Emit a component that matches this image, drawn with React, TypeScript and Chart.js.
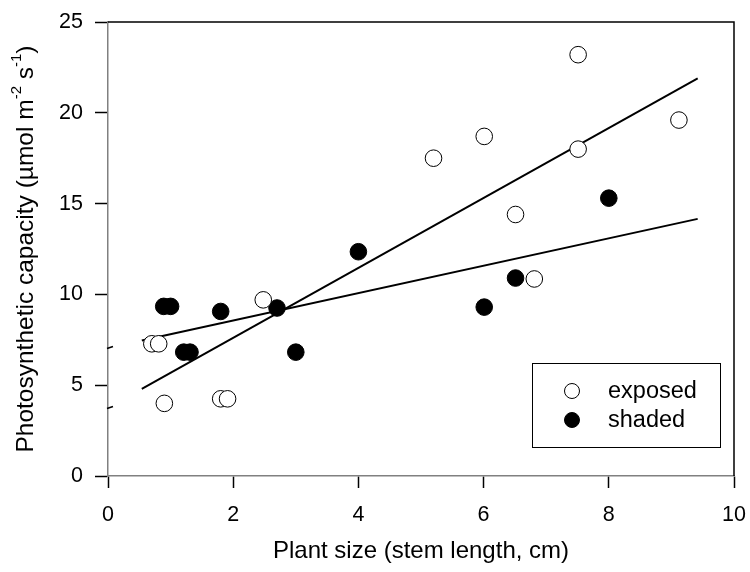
import { useEffect, useRef } from "react";
import { Chart, registerables } from "chart.js";

Chart.register(...registerables);

const exposedX = [0.7, 0.81, 0.9, 1.8, 1.91, 2.48, 5.2, 6.01, 6.51, 6.81, 7.51, 7.51, 9.12];
const exposedY = [7.28, 7.28, 4.0, 4.25, 4.25, 9.7, 17.5, 18.7, 14.4, 10.85, 23.2, 18.0, 19.6];
const shadedX = [0.89, 1.0, 1.21, 1.31, 1.8, 2.7, 3.0, 4.0, 6.01, 6.51, 8.0];
const shadedY = [9.34, 9.34, 6.82, 6.82, 9.06, 9.25, 6.82, 12.35, 9.3, 10.9, 15.3];
const fitX = [0.54, 9.42];
const exposedFitY = [4.8, 21.9];
const shadedFitY = [7.46, 14.16];
const xTicks = [0, 2, 4, 6, 8, 10];
const yTicks = [0, 5, 10, 15, 20, 25];
const axisBreaks = [3.8, 7.1];
const seriesLabels = ["exposed", "shaded"];
const xTitle = "Plant size (stem length, cm)";
const yTitleParts: [string, boolean][] = [
  ["Photosynthetic capacity (µmol m", false],
  ["-2", true],
  [" s", false],
  ["-1", true],
  [")", false],
];

const FONT = "'Liberation Sans', Arial, sans-serif";

const decorPlugin = {
  id: "decor",
  afterDraw(chart: any) {
    const { ctx, chartArea, scales } = chart;
    const { left, right, top, bottom } = chartArea;
    ctx.save();
    // top & right frame
    ctx.strokeStyle = "#000";
    ctx.lineWidth = 1.5;
    ctx.beginPath();
    ctx.moveTo(left, top);
    ctx.lineTo(right, top);
    ctx.lineTo(right, bottom);
    ctx.stroke();

    // axis break marks
    ctx.lineWidth = 1.5;
    axisBreaks.forEach((v) => {
      const py = scales.y.getPixelForValue(v);
      ctx.beginPath();
      ctx.moveTo(left - 1, py + 1.5);
      ctx.lineTo(left + 5, py - 0.5);
      ctx.stroke();
    });

    // legend
    const bx0 = right - 202;
    const bx1 = right - 14;
    const by0 = bottom - 113;
    const by1 = bottom - 29;
    ctx.lineWidth = 1;
    ctx.strokeStyle = "#000";
    ctx.strokeRect(bx0 + 0.5, by0 + 0.5, bx1 - bx0, by1 - by0);
    ctx.font = `23.5px ${FONT}`;
    ctx.textBaseline = "middle";
    ctx.textAlign = "left";
    seriesLabels.forEach((lab, i) => {
      const ds = chart.data.datasets[i];
      const cy = by0 + 28 + i * 29;
      const cx = bx0 + 40;
      ctx.beginPath();
      ctx.arc(cx, cy, 7.5, 0, Math.PI * 2);
      ctx.fillStyle = ds.pointBackgroundColor;
      ctx.fill();
      ctx.lineWidth = 1;
      ctx.strokeStyle = "#000";
      ctx.stroke();
      ctx.fillStyle = "#000";
      ctx.fillText(lab, bx0 + 76, cy + 1);
    });

    // x title
    ctx.font = `24px ${FONT}`;
    ctx.textAlign = "center";
    ctx.textBaseline = "middle";
    ctx.fillStyle = "#000";
    ctx.fillText(xTitle, (left + right) / 2, 551);

    // y title with superscripts
    const mainSize = 24.5;
    const supSize = 15;
    let total = 0;
    yTitleParts.forEach(([t, sup]) => {
      ctx.font = `${sup ? supSize : mainSize}px ${FONT}`;
      total += ctx.measureText(t).width;
    });
    ctx.translate(26, (top + bottom) / 2);
    ctx.rotate(-Math.PI / 2);
    ctx.textAlign = "left";
    ctx.textBaseline = "middle";
    let x = -total / 2;
    yTitleParts.forEach(([t, sup]) => {
      ctx.font = `${sup ? supSize : mainSize}px ${FONT}`;
      ctx.fillText(t, x, sup ? -9 : 0);
      x += ctx.measureText(t).width;
    });
    ctx.restore();
  },
};

export default function App() {
  const ref = useRef<HTMLCanvasElement | null>(null);
  useEffect(() => {
    if (!ref.current) return;
    const chart = new Chart(ref.current, {
      type: "scatter",
      data: {
        datasets: [
          {
            label: seriesLabels[0],
            data: exposedX.map((x, i) => ({ x, y: exposedY[i] })),
            pointRadius: 8.3,
            pointBackgroundColor: "#ffffff",
            pointBorderColor: "#000000",
            pointBorderWidth: 1,
            showLine: false,
            order: 0,
          },
          {
            label: seriesLabels[1],
            data: shadedX.map((x, i) => ({ x, y: shadedY[i] })),
            pointRadius: 8.3,
            pointBackgroundColor: "#000000",
            pointBorderColor: "#000000",
            pointBorderWidth: 1,
            showLine: false,
            order: 0,
          },
          {
            label: "exposed fit",
            data: fitX.map((x, i) => ({ x, y: exposedFitY[i] })),
            showLine: true,
            borderColor: "#000",
            borderWidth: 2,
            pointRadius: 0,
            order: 1,
          },
          {
            label: "shaded fit",
            data: fitX.map((x, i) => ({ x, y: shadedFitY[i] })),
            showLine: true,
            borderColor: "#000",
            borderWidth: 2,
            pointRadius: 0,
            order: 1,
          },
        ],
      },
      options: {
        animation: false,
        responsive: false,
        maintainAspectRatio: false,
        layout: { padding: { top: 22, right: 16, left: 0, bottom: 0 } },
        plugins: { legend: { display: false }, tooltip: { enabled: false } },
        scales: {
          x: {
            type: "linear",
            min: 0,
            max: 10,
            afterBuildTicks: (s: any) => {
              s.ticks = xTicks.map((v) => ({ value: v }));
            },
            afterFit: (s: any) => {
              s.height = 96;
              s.paddingLeft = 0;
              s.paddingRight = 0;
            },
            ticks: {
              color: "#000",
              font: { family: FONT, size: 21.5 },
              padding: 14,
              maxRotation: 0,
            },
            grid: {
              display: true,
              drawOnChartArea: false,
              tickLength: 12,
              tickColor: "#000",
              tickWidth: 1.5,
            },
            border: { display: true, color: "#808080", width: 1.5 },
          },
          y: {
            type: "linear",
            min: 0,
            max: 25,
            afterBuildTicks: (s: any) => {
              s.ticks = yTicks.map((v) => ({ value: v }));
            },
            afterFit: (s: any) => {
              s.width = 108;
              s.paddingTop = 0;
              s.paddingBottom = 0;
            },
            ticks: {
              color: "#000",
              font: { family: FONT, size: 21.5 },
              padding: 12,
            },
            grid: {
              display: true,
              drawOnChartArea: false,
              tickLength: 13,
              tickColor: "#000",
              tickWidth: 1.5,
            },
            border: { display: true, color: "#808080", width: 1.5 },
          },
        },
      },
      plugins: [decorPlugin],
    });
    return () => chart.destroy();
  }, []);
  return (
    <div style={{ position: "fixed", left: 0, top: 0, width: 750, height: 572, background: "#fff" }}>
      <canvas ref={ref} width={750} height={572} style={{ width: 750, height: 572, display: "block" }} />
    </div>
  );
}
